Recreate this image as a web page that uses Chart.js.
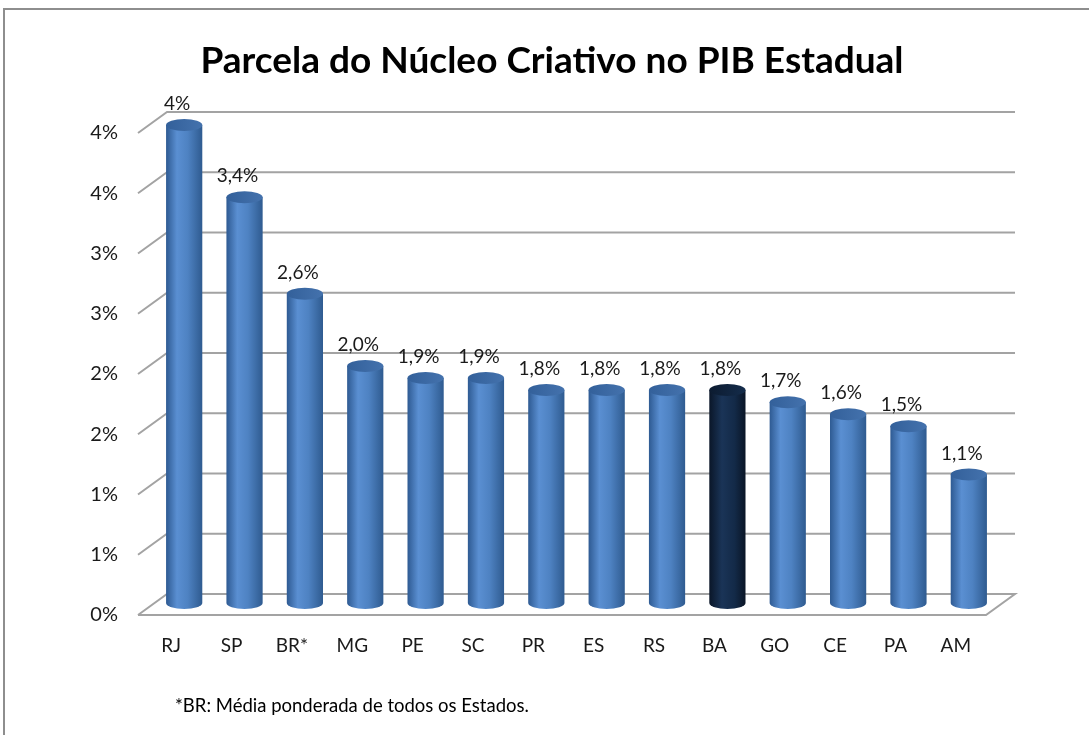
<!DOCTYPE html>
<html>
<head>
<meta charset="utf-8">
<script src="https://cdn.jsdelivr.net/npm/chart.js@4.4.1/dist/chart.umd.min.js"></script>
<style>
  body { margin: 0; background: #fff; overflow: hidden; }
  #frame { position: absolute; left: 3px; top: 8px; width: 2000px; height: 2000px; border: 2px solid #8e8e8e; }
  #chart { position: absolute; left: 0; top: 0; }
</style>
</head>
<body>
<div id="frame"></div>
<canvas id="chart" width="1089" height="735"></canvas>
<script>
const chartTitle = "Parcela do Núcleo Criativo no PIB Estadual";
const footnote = "*BR: Média ponderada de todos os Estados.";

const categories = ["RJ", "SP", "BR*", "MG", "PE", "SC", "PR", "ES", "RS", "BA", "GO", "CE", "PA", "AM"];
const shareValues = [4.0, 3.4, 2.6, 2.0, 1.9, 1.9, 1.8, 1.8, 1.8, 1.8, 1.7, 1.6, 1.5, 1.1];
const valueLabels = ["4%", "3,4%", "2,6%", "2,0%", "1,9%", "1,9%", "1,8%", "1,8%", "1,8%", "1,8%", "1,7%", "1,6%", "1,5%", "1,1%"];
const yTickLabels = ["0%", "1%", "1%", "2%", "2%", "3%", "3%", "4%", "4%"];
const highlighted = "BA";

const fontFamily = "Lato, 'Open Sans', sans-serif";
const gridColor = "#a3a3a3";
const depth = { dx: 29, dy: -21 };   // back wall offset
const barShift = { dx: 13, top: -8, base: -12 };
const capRy = 6;

function bodyGradient(ctx, x0, x1, dark) {
  const g = ctx.createLinearGradient(x0, 0, x1, 0);
  if (dark) {
    g.addColorStop(0, "#0a1628");
    g.addColorStop(0.35, "#1a3457");
    g.addColorStop(0.7, "#132a48");
    g.addColorStop(1, "#0a1526");
  } else {
    g.addColorStop(0, "#2e5a92");
    g.addColorStop(0.3, "#5a8fd2");
    g.addColorStop(0.6, "#4e82c2");
    g.addColorStop(1, "#2f5b90");
  }
  return g;
}

const backWall = {
  id: "backWall",
  beforeDatasetsDraw(chart) {
    const { ctx, chartArea: a, scales: { y } } = chart;
    ctx.save();
    ctx.strokeStyle = gridColor;
    ctx.lineWidth = 2;
    y.ticks.forEach((t, i) => {
      const py = y.getPixelForValue(t.value);
      ctx.beginPath();
      ctx.moveTo(a.left - 3, py);
      ctx.lineTo(a.left - 3 + depth.dx, py + depth.dy);
      ctx.lineTo(a.right + depth.dx, py + depth.dy);
      if (i === 0) {
        ctx.lineTo(a.right, py);
        ctx.lineTo(a.left - 3, py);
      }
      ctx.stroke();
    });
    ctx.restore();
  }
};

const cylinders = {
  id: "cylinders",
  afterDatasetsDraw(chart) {
    const { ctx } = chart;
    const meta = chart.getDatasetMeta(0);
    ctx.save();
    meta.data.forEach((bar, i) => {
      const dark = categories[i] === highlighted;
      const cx = bar.x + barShift.dx;
      const rx = bar.width / 2;
      const top = bar.y + barShift.top;
      const base = bar.base + barShift.base;
      ctx.fillStyle = bodyGradient(ctx, cx - rx, cx + rx, dark);
      ctx.beginPath();
      ctx.moveTo(cx - rx, top);
      ctx.lineTo(cx - rx, base);
      ctx.ellipse(cx, base, rx, capRy, 0, Math.PI, 0, true);
      ctx.lineTo(cx + rx, top);
      ctx.closePath();
      ctx.fill();
      const cg = ctx.createLinearGradient(cx - rx, 0, cx + rx, 0);
      cg.addColorStop(0, dark ? "#0c1b30" : "#33609a");
      cg.addColorStop(1, dark ? "#142c4b" : "#4472ad");
      ctx.fillStyle = cg;
      ctx.beginPath();
      ctx.ellipse(cx, top, rx, capRy, 0, 0, Math.PI * 2);
      ctx.fill();

      ctx.fillStyle = "#1a1a1a";
      ctx.font = "19px " + fontFamily;
      ctx.textAlign = "center";
      ctx.textBaseline = "middle";
      ctx.fillText(valueLabels[i], cx - 7, top - capRy - 15);
    });
    ctx.restore();
  },
  afterDraw(chart) {
    const { ctx } = chart;
    ctx.save();
    ctx.fillStyle = "#000";
    ctx.textAlign = "center";
    ctx.textBaseline = "alphabetic";
    ctx.font = "bold 37px " + fontFamily;
    ctx.fillText(chartTitle, 552, 73);
    ctx.textAlign = "left";
    ctx.font = "18.5px " + fontFamily;
    ctx.fillText(footnote, 175, 712);
    ctx.restore();
  }
};

new Chart(document.getElementById("chart"), {
  type: "bar",
  data: {
    labels: categories,
    datasets: [{
      data: shareValues,
      backgroundColor: "rgba(0,0,0,0)",
      barPercentage: 0.6,
      categoryPercentage: 1
    }]
  },
  options: {
    responsive: false,
    animation: false,
    devicePixelRatio: 1,
    layout: { padding: { top: 133, right: 103, bottom: 60, left: 0 } },
    plugins: { legend: { display: false }, tooltip: { enabled: false } },
    scales: {
      x: {
        grid: { display: false, drawTicks: false },
        border: { display: false },
        ticks: { color: "#1a1a1a", font: { family: fontFamily, size: 19 }, padding: 19 },
        afterFit: (s) => { s.height = 60; }
      },
      y: {
        min: 0,
        max: 4,
        grid: { display: false, drawTicks: false },
        border: { display: false },
        ticks: {
          stepSize: 0.5,
          color: "#1a1a1a",
          font: { family: fontFamily, size: 20 },
          padding: 23,
          callback: (v, i) => yTickLabels[i]
        },
        afterFit: (s) => { s.width = 141; }
      }
    }
  },
  plugins: [backWall, cylinders]
});
</script>
</body>
</html>
